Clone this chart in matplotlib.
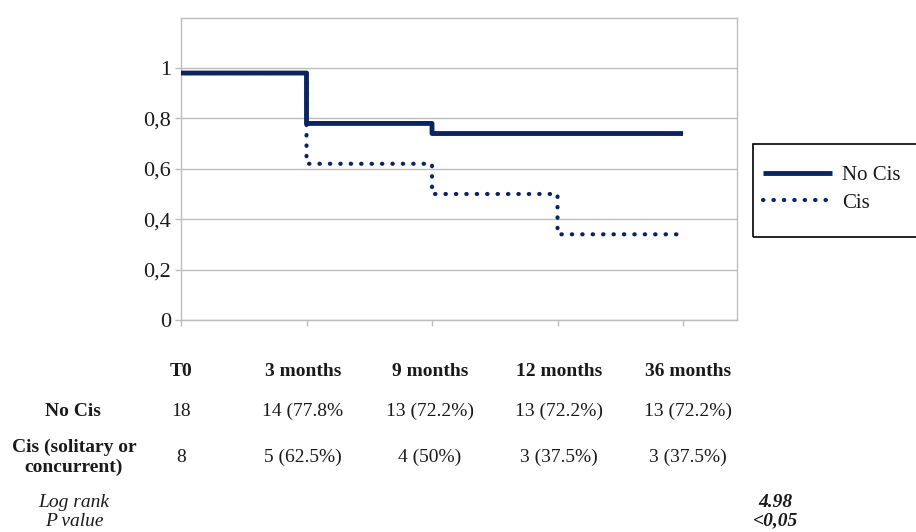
import matplotlib
matplotlib.use('Agg')
import matplotlib.pyplot as plt
from matplotlib.patches import Rectangle

plt.rcParams['font.family'] = ['Liberation Serif', 'DejaVu Serif']

# data
times = ['T0', '3 months', '9 months', '12 months', '36 months']
no_cis_surv = [0.98, 0.78, 0.74, 0.74, 0.74]
cis_surv = [0.98, 0.62, 0.50, 0.34, 0.34]
no_cis_row = ['18', '14 (77.8%', '13 (72.2%)', '13 (72.2%)', '13 (72.2%)']
cis_row = ['8', '5 (62.5%)', '4 (50%)', '3 (37.5%)', '3 (37.5%)']
y_ticks = [0, 0.2, 0.4, 0.6, 0.8, 1.0]
y_labels = ['0', '0,2', '0,4', '0,6', '0,8', '1']
log_rank = '4.98'
p_value = '<0,05'

navy = '#0b2460'
grey = '#bdbdbd'
txt = '#1a1a1a'

W, H = 916, 532
fig = plt.figure(figsize=(W / 100, H / 100), dpi=100)
ax = fig.add_axes([181 / W, 1 - 320 / H, (737 - 181) / W, 302.4 / H])

x = list(range(len(times)))
ax.step(x, cis_surv, where='post', color=navy, lw=3.0, snap=False,
        linestyle=(0, (0.1, 2.4)), dash_capstyle='round', label='Cis', zorder=3)
ax.step(x, no_cis_surv, where='post', color=navy, lw=3.5, snap=False,
        solid_capstyle='butt', label='No Cis', zorder=4)

ax.set_xlim(0, 4.43)
ax.set_ylim(0, 1.2)
ax.set_xticks(x)
ax.set_xticklabels([])
ax.set_yticks(y_ticks)
ax.set_yticklabels(y_labels, fontsize=16, color=txt)
ax.tick_params(axis='both', length=4, width=1, color=grey, pad=3)
ax.grid(axis='y', color=grey, lw=1)
ax.set_axisbelow(True)
for s in ax.spines.values():
    s.set_color(grey)
    s.set_linewidth(1)

# legend box runs past the right edge of the picture
fig.patches.append(Rectangle((753 / W, 1 - 237 / H), 180 / W, 93 / H,
                             transform=fig.transFigure, fill=False,
                             edgecolor='black', lw=1.2))
handles, labels = ax.get_legend_handles_labels()
leg = fig.legend(handles[::-1], labels[::-1], loc='center left',
                 bbox_to_anchor=(763 / W, 1 - 189 / H), fontsize=15,
                 frameon=False, handlelength=3.3, handletextpad=0.5,
                 labelspacing=0.4, borderpad=0, borderaxespad=0)
for t in leg.get_texts():
    t.set_color(txt)

# table below the chart
col_x = [181, 303, 430, 559, 688]
for cx, lab in zip(col_x, times):
    fig.text(cx / W, 1 - 372 / H, lab, ha='center', va='center',
             fontsize=14, fontweight='bold', color=txt)
for cx, v in zip(col_x, no_cis_row):
    fig.text(cx / W, 1 - 411 / H, v, ha='center', va='center', fontsize=14, color=txt)
for cx, v in zip(col_x, cis_row):
    fig.text(cx / W, 1 - 457 / H, v, ha='center', va='center', fontsize=14, color=txt)

fig.text(73 / W, 1 - 411 / H, 'No Cis', ha='center', va='center',
         fontsize=14, fontweight='bold', color=txt)
fig.text(74 / W, 1 - 457 / H, 'Cis (solitary or\nconcurrent)', ha='center', va='center',
         fontsize=14, fontweight='bold', color=txt, linespacing=1.2)
fig.text(74 / W, 1 - 512 / H, 'Log rank\nP value', ha='center', va='center',
         fontsize=14, style='italic', color=txt, linespacing=1.1)
fig.text(775 / W, 1 - 512 / H, log_rank + '\n' + p_value, ha='center', va='center',
         fontsize=14, style='italic', fontweight='bold', color=txt, linespacing=1.1)

fig.savefig('out.png', dpi=100)
